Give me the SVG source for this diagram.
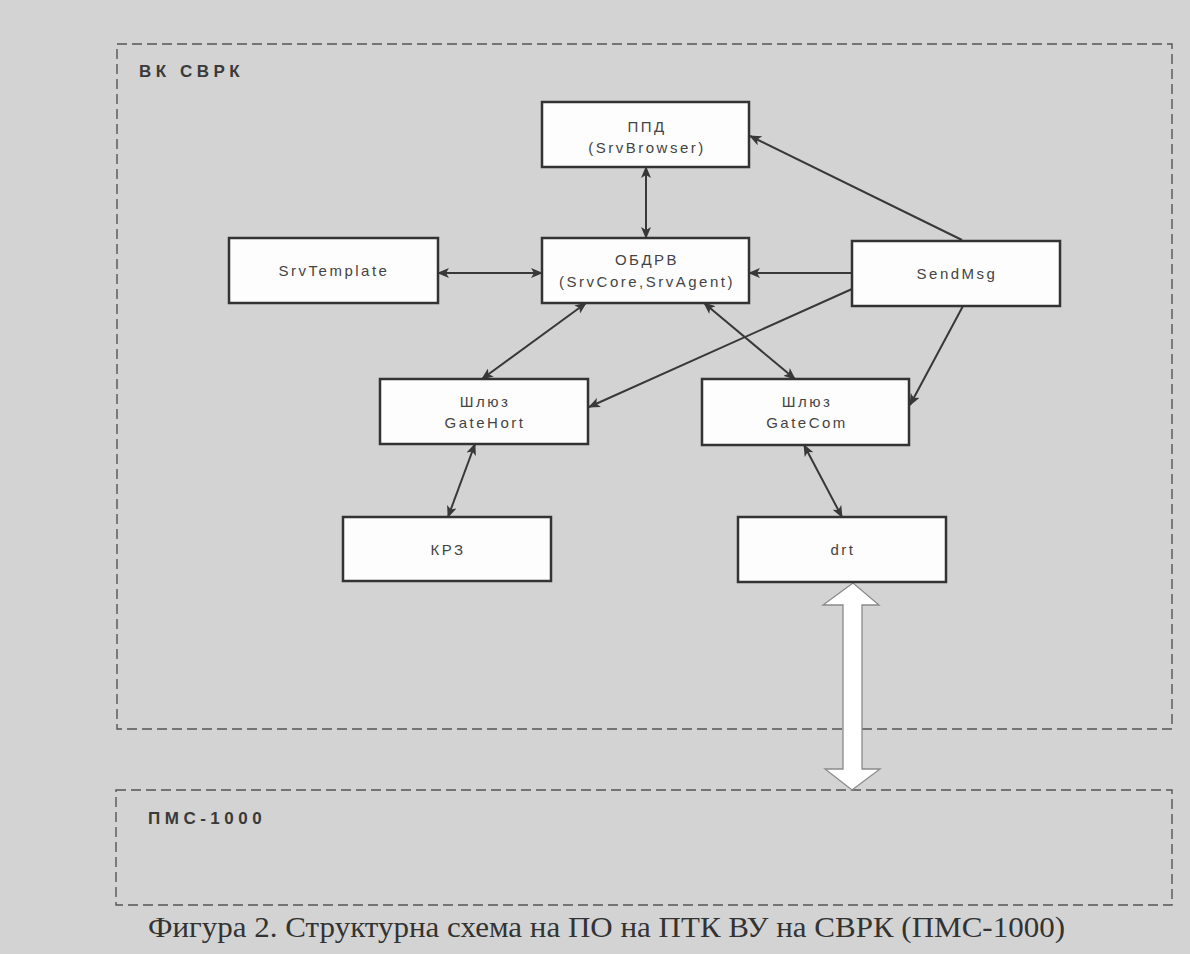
<svg xmlns="http://www.w3.org/2000/svg" width="1190" height="954" viewBox="0 0 1190 954">
  <defs>
    <style>
      .bg { fill: #d3d3d3; }
      .frame { fill: none; stroke: #555; stroke-width: 1.4; stroke-dasharray: 10 5; }
      .box { fill: #fdfdfd; stroke: #333; stroke-width: 2.5; }
      .lbl { font-family: "Liberation Sans", Arial, sans-serif; font-size: 15px; fill: #444; text-anchor: middle; letter-spacing: 2.5px; }
      .area { font-family: "Liberation Sans", Arial, sans-serif; font-size: 17px; font-weight: bold; fill: #3a3a3a; letter-spacing: 4.5px; }
      .conn { stroke: #383838; stroke-width: 2; fill: none; }
      .caption { font-family: "Liberation Serif", "Times New Roman", serif; font-size: 30px; fill: #333; }
      .big { fill: #ffffff; stroke: #8a8a8a; stroke-width: 1.3; }
    </style>
    <marker id="arr" viewBox="0 0 12 10" refX="11" refY="5" markerWidth="12" markerHeight="10" markerUnits="userSpaceOnUse" orient="auto-start-reverse">
      <path d="M0,0 L12,5 L0,10 L3,5 z" fill="#383838"/>
    </marker>
  </defs>

  <rect class="bg" x="0" y="0" width="1190" height="954"/>

  <g id="area-vk-svrk">
    <rect class="frame" x="117" y="44" width="1055" height="685"/>
    <text class="area" x="139" y="77">ВК СВРК</text>
  </g>

  <g id="area-pms">
    <rect class="frame" x="116" y="790" width="1056" height="115"/>
    <text class="area" x="148" y="824">ПМС-1000</text>
  </g>

  <g id="connectors">
    <line class="conn" x1="646" y1="167" x2="646" y2="238" marker-start="url(#arr)" marker-end="url(#arr)"/>
    <line class="conn" x1="438" y1="273" x2="542" y2="273" marker-start="url(#arr)" marker-end="url(#arr)"/>
    <line class="conn" x1="852" y1="273" x2="749" y2="273" marker-end="url(#arr)"/>
    <line class="conn" x1="962" y1="240" x2="750" y2="136" marker-end="url(#arr)"/>
    <line class="conn" x1="586" y1="303" x2="482" y2="379" marker-start="url(#arr)" marker-end="url(#arr)"/>
    <line class="conn" x1="852" y1="289" x2="589" y2="407" marker-end="url(#arr)"/>
    <line class="conn" x1="704" y1="303" x2="795" y2="379" marker-start="url(#arr)" marker-end="url(#arr)"/>
    <line class="conn" x1="963" y1="306" x2="910" y2="405" marker-end="url(#arr)"/>
    <line class="conn" x1="475" y1="444" x2="448" y2="517" marker-start="url(#arr)" marker-end="url(#arr)"/>
    <line class="conn" x1="804" y1="445" x2="842" y2="517" marker-start="url(#arr)" marker-end="url(#arr)"/>
    <polygon class="big" points="853,583 823,605 843,605 843,769 825,769 852,790 880,769 862,769 862,605 879,605"/>
  </g>

  <g id="node-ppd">
    <rect class="box" x="542" y="102" width="207" height="65"/>
    <text class="lbl" x="647" y="132">ППД</text>
    <text class="lbl" x="647" y="153">(SrvBrowser)</text>
  </g>

  <g id="node-srvtemplate">
    <rect class="box" x="229" y="238" width="209" height="65"/>
    <text class="lbl" x="334" y="276">SrvTemplate</text>
  </g>

  <g id="node-obdrv">
    <rect class="box" x="542" y="238" width="207" height="65"/>
    <text class="lbl" x="647" y="265">ОБДРВ</text>
    <text class="lbl" x="647" y="287">(SrvCore,SrvAgent)</text>
  </g>

  <g id="node-sendmsg">
    <rect class="box" x="852" y="241" width="208" height="65"/>
    <text class="lbl" x="957" y="279">SendMsg</text>
  </g>

  <g id="node-gatehort">
    <rect class="box" x="380" y="379" width="208" height="65"/>
    <text class="lbl" x="485" y="407">Шлюз</text>
    <text class="lbl" x="485" y="428">GateHort</text>
  </g>

  <g id="node-gatecom">
    <rect class="box" x="702" y="379" width="207" height="66"/>
    <text class="lbl" x="807" y="407">Шлюз</text>
    <text class="lbl" x="807" y="428">GateCom</text>
  </g>

  <g id="node-krz">
    <rect class="box" x="343" y="517" width="208" height="64"/>
    <text class="lbl" x="448" y="555">КРЗ</text>
  </g>

  <g id="node-drt">
    <rect class="box" x="738" y="517" width="208" height="65"/>
    <text class="lbl" x="843" y="555">drt</text>
  </g>

  <text class="caption" x="148" y="937" textLength="917" lengthAdjust="spacingAndGlyphs">Фигура 2. Структурна схема на ПО на ПТК ВУ на СВРК (ПМС-1000)</text>
</svg>
